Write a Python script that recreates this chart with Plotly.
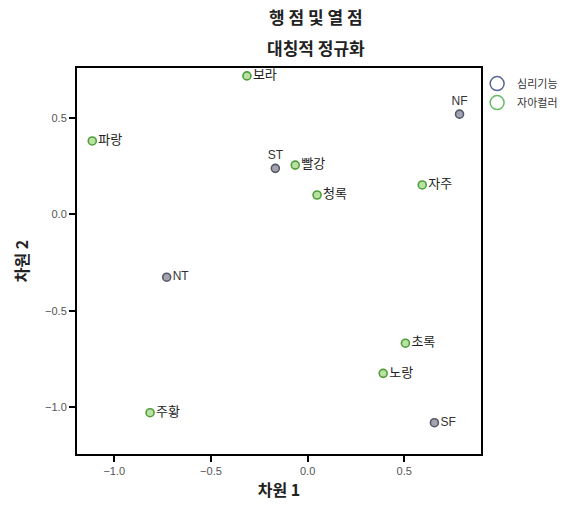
import plotly.graph_objects as go

# Row points (심리기능) and column points (자아컬러) in the two correspondence dimensions
func_labels = ["NF", "ST", "NT", "SF"]
func_dim1 = [0.786, -0.167, -0.729, 0.656]
func_dim2 = [0.519, 0.238, -0.326, -1.080]
func_textpos = ["top center", "top center", "middle right", "middle right"]

color_labels = ["보라", "파랑", "빨강", "청록", "자주", "초록", "노랑", "주황"]
color_dim1 = [-0.314, -1.114, -0.064, 0.049, 0.593, 0.506, 0.391, -0.815]
color_dim2 = [0.717, 0.380, 0.255, 0.100, 0.152, -0.668, -0.824, -1.028]

legend_names = ["심리기능", "자아컬러"]
tick_vals = [-1.0, -0.5, 0.0, 0.5]
tick_text = ["−1.0", "−0.5", "0.0", "0.5"]

KR = "Noto Sans CJK KR"
LAT = "Liberation Sans, Arial"

fig = go.Figure()

fig.add_trace(go.Scatter(
    x=func_dim1, y=func_dim2, mode="markers+text", text=func_labels,
    textposition=func_textpos, showlegend=False,
    textfont=dict(family=LAT, size=12, color="#333333"),
    marker=dict(size=8, color="#a4a4b0", line=dict(color="#55586a", width=1.6)),
    cliponaxis=False,
))
fig.add_trace(go.Scatter(
    x=color_dim1, y=color_dim2, mode="markers+text", text=color_labels,
    textposition="middle right", showlegend=False,
    textfont=dict(family=KR, size=13, color="#222222"),
    marker=dict(size=8, color="#b9e2a2", line=dict(color="#4f9e3a", width=1.6)),
    cliponaxis=False,
))

# Legend entries drawn as open circles
for name, col in zip(legend_names, ["#5b6496", "#66bb66"]):
    fig.add_trace(go.Scatter(
        x=[None], y=[None], mode="markers", name=name,
        marker=dict(size=14, symbol="circle-open", color=col, line=dict(width=1.5)),
    ))

axis_common = dict(
    showgrid=False, zeroline=False, showline=True, linecolor="#000000",
    linewidth=2, mirror=True, ticks="outside", ticklen=6, tickwidth=1.5,
    tickcolor="#000000", tickvals=tick_vals, ticktext=tick_text,
    tickfont=dict(family=LAT, size=11, color="#555555"),
)

fig.update_layout(
    width=568, height=512,
    margin=dict(l=77, r=87, t=68, b=58, autoexpand=False),
    paper_bgcolor="white", plot_bgcolor="white",
    xaxis=dict(range=[-1.193, 0.897], **axis_common,
               title=dict(text="<b>차원 1</b>", standoff=9,
                          font=dict(family=KR, size=16, color="#222222"))),
    yaxis=dict(range=[-1.242, 0.758], **axis_common,
               title=dict(text="<b>차원 2</b>", standoff=12,
                          font=dict(family=KR, size=16, color="#222222"))),
    legend=dict(xref="container", yref="container", x=0.84, y=0.865,
                xanchor="left", yanchor="top",
                font=dict(family=KR, size=11, color="#333333"),
                bgcolor="rgba(0,0,0,0)", itemwidth=30, tracegroupgap=0),
    annotations=[
        dict(text="<b>행 점 및 열 점</b>", xref="paper", yref="paper",
             x=0.592, y=1.0, yshift=52, yanchor="middle", showarrow=False,
             font=dict(family=KR, size=17, color="#222222")),
        dict(text="<b>대칭적 정규화</b>", xref="paper", yref="paper",
             x=0.592, y=1.0, yshift=21, yanchor="middle", showarrow=False,
             font=dict(family=KR, size=17, color="#222222")),
    ],
)

fig.write_html("out.html")
